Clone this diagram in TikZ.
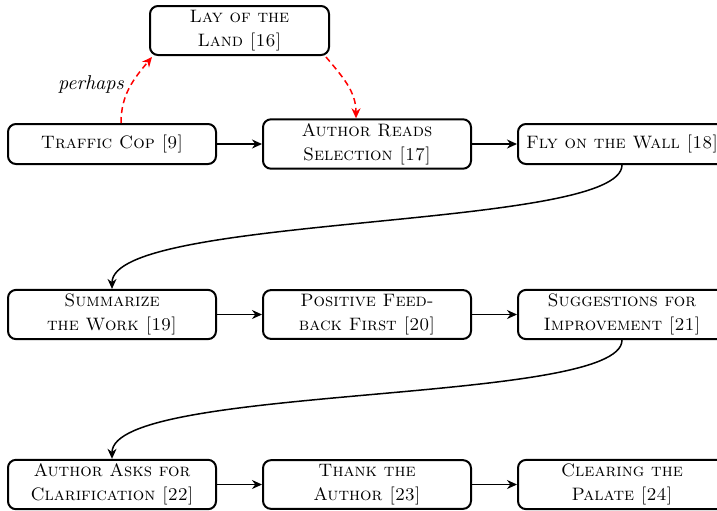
\documentclass[tikz,border=0pt]{standalone}
\usetikzlibrary{arrows.meta}
\begin{document}
\begin{tikzpicture}[x=0.5pt,y=-0.5pt,
 box/.style={draw, line width=1pt, rounded corners=4pt, minimum width=104pt, minimum height=20pt, inner xsep=1pt, inner ysep=2pt, align=center, font=\fontsize{9}{12}\selectfont\scshape},
 flow/.style={-{Stealth[length=5pt,width=4.5pt]}, line width=0.75pt},
 maybe/.style={flow, red, dash pattern=on 3pt off 2pt}]
\useasboundingbox (0,0) rectangle (717,510);
\node[box, minimum width=89.5pt, minimum height=24.5pt] (lay) at (239.5,30.5) {Lay of the\\Land [16]};
\node[box] (tc) at (112,144) {Traffic Cop [9]};
\node[box] (ar) at (367,144) {Author Reads\\Selection [17]};
\node[box] (fly) at (622,144) {Fly on the Wall [18]};
\node[box] (sum) at (112,314.5) {Summarize\\the Work [19]};
\node[box] (pos) at (367,314.5) {Positive Feed-\\back First [20]};
\node[box] (sug) at (622,314.5) {Suggestions for\\Improvement [21]};
\node[box] (ask) at (112,484.5) {Author Asks for\\Clarification [22]};
\node[box] (thx) at (367,484.5) {Thank the\\Author [23]};
\node[box] (pal) at (622,484.5) {Clearing the\\Palate [24]};
\node[font=\itshape] (ph) at (91,84) {perhaps};
\draw[flow] (tc) -- (ar);
\draw[flow] (ar) -- (fly);
\draw[flow] (sum) -- (pos);
\draw[flow] (pos) -- (sug);
\draw[flow] (ask) -- (thx);
\draw[flow] (thx) -- (pal);
\draw[flow] (fly.south) .. controls +(0,65) and +(0,-75) .. (sum.north);
\draw[flow] (sug.south) .. controls +(0,65) and +(0,-75) .. (ask.north);
\draw[maybe] ([xshift=4.5pt]tc.north) to[out=90,in=-130] ([xshift=1.5pt,yshift=-0.5pt]lay.south west);
\draw[maybe] ([xshift=-2pt,yshift=-0.5pt]lay.south east) to[out=-50,in=90] ([xshift=-5.5pt]ar.north);
\end{tikzpicture}
\end{document}
